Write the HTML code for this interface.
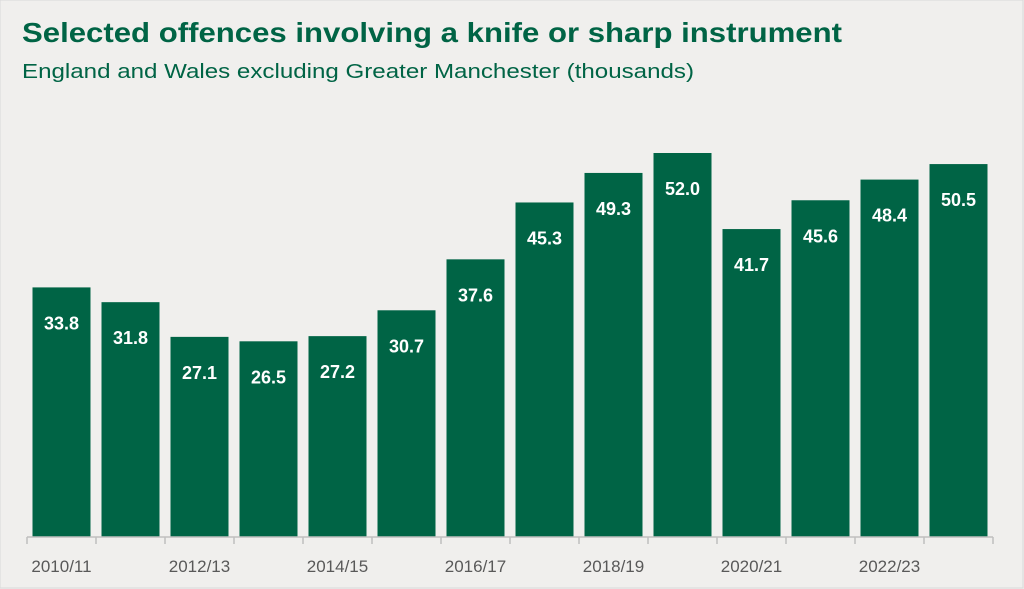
<!DOCTYPE html>
<html><head><meta charset="utf-8"><style>
html,body{margin:0;padding:0;background:#f0efed;}
svg{display:block;font-family:"Liberation Sans",sans-serif;}
</style></head><body>
<svg width="1024" height="589" viewBox="0 0 1024 589">
<rect x="0" y="0" width="1023" height="588" fill="#f0efed" stroke="#d9d9d9"/>
<text x="22" y="42" font-size="28" font-weight="bold" fill="#006445" textLength="820" lengthAdjust="spacingAndGlyphs">Selected offences involving a knife or sharp instrument</text>
<text x="22" y="78" font-size="20" fill="#006445" textLength="672" lengthAdjust="spacingAndGlyphs">England and Wales excluding Greater Manchester (thousands)</text>
<g id="plot"></g>
</svg>
<script>
const categories=["2010/11","2011/12","2012/13","2013/14","2014/15","2015/16","2016/17","2017/18","2018/19","2019/20","2020/21","2021/22","2022/23","2023/24"];
const values=[33.8,31.8,27.1,26.5,27.2,30.7,37.6,45.3,49.3,52.0,41.7,45.6,48.4,50.5];
const tickLabels=["2010/11","","2012/13","","2014/15","","2016/17","","2018/19","","2020/21","","2022/23",""];
const NS="http://www.w3.org/2000/svg";
const g=document.getElementById('plot');
const x0=27,band=69,baseY=537,scale=(537-153)/52,barW=58;
const xPos=i=>x0+i*band;
const yPos=v=>baseY-v*scale;
function mk(t,a){const e=document.createElementNS(NS,t);for(const k in a)e.setAttribute(k,a[k]);g.appendChild(e);return e;}
values.forEach((v,i)=>{
  const cx=xPos(i)+band/2;
  const r=mk('rect',{x:cx-barW/2,y:yPos(v),width:barW,height:baseY-yPos(v),fill:'#006445'});
  
  
  const t=mk('text',{x:cx,y:yPos(v)+42,'text-anchor':'middle','font-size':'18','font-weight':'bold',fill:'#ffffff'});
  t.textContent=v.toFixed(1);
  
  
});
const ax=mk('line',{x1:x0,x2:xPos(categories.length),y1:baseY,y2:baseY,stroke:'#bfbfbf','stroke-width':1.5});


for(let i=0;i<=categories.length;i++){
  const tk=mk('line',{x1:xPos(i),x2:xPos(i),y1:baseY,y2:baseY+7,stroke:'#bfbfbf','stroke-width':1.5});
  
  
}
tickLabels.forEach((l,i)=>{
  if(!l)return;
  const t=mk('text',{x:xPos(i)+band/2,y:572,'text-anchor':'middle','font-size':'17',fill:'#595959'});
  t.textContent=l;
  
  
});
</script>
</body></html>
